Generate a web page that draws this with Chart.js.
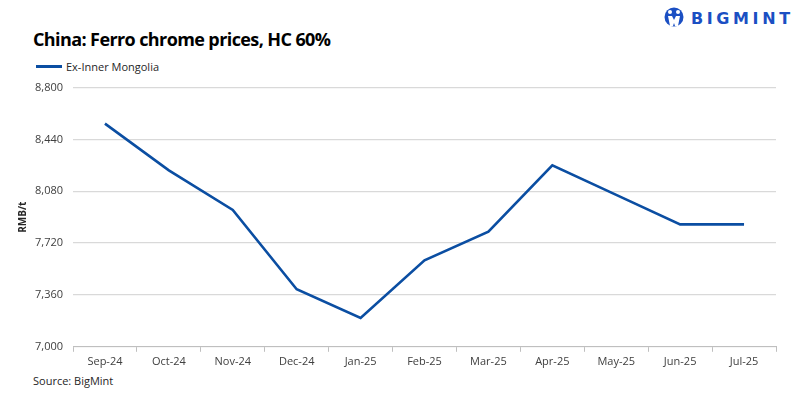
<!DOCTYPE html>
<html>
<head>
<meta charset="utf-8">
<script src="https://cdn.jsdelivr.net/npm/chart.js@4.4.1/dist/chart.umd.min.js"></script>
<style>
  body { margin: 0; background: #fff; width: 799px; height: 398px; overflow: hidden; position: relative; font-family: "Open Sans", sans-serif; }
  #title { position: absolute; left: 33px; top: 27px; font-size: 18px; font-weight: bold; color: #000; letter-spacing: -0.6px; }
  #legend { position: absolute; left: 36px; top: 59px; font-size: 11px; color: #262626; display: flex; align-items: center; }
  #legend span.ln { display: inline-block; width: 26px; height: 2.5px; background: #0b4ea2; margin-right: 4px; }
  #source { position: absolute; left: 33px; top: 373px; font-size: 11px; color: #262626; }
  #logo { position: absolute; left: 664px; top: 6px; display: flex; align-items: center; }
  #logo .txt { font-family: "DejaVu Sans", sans-serif; font-weight: bold; font-size: 16px; letter-spacing: 3.6px; color: #1b4fc3; margin-left: 7px; }
  #wrap { position: absolute; left: 0; top: 71px; width: 799px; height: 300px; }
</style>
</head>
<body>
<div id="title">China: Ferro chrome prices, HC 60%</div>
<div id="legend"><span class="ln"></span>Ex-Inner Mongolia</div>
<div id="logo">
  <svg width="20" height="24" viewBox="0 0 20 24">
    <circle cx="10" cy="11" r="9.5" fill="#1b4fc3"/>
    <circle cx="6" cy="6" r="2" fill="#fff"/>
    <circle cx="14" cy="6" r="2" fill="#fff"/>
    <path d="M4 10 L8 10 L10 14 L12 10 L16 10 L14 20 L11 20 L10 17 L9 20 L6 20 Z" fill="#fff"/>
  </svg>
  <span class="txt">BIGMINT</span>
</div>
<div id="source">Source: BigMint</div>
<div id="wrap"><canvas id="chart"></canvas></div>
<script>
// chart data
const months = ["Sep-24", "Oct-24", "Nov-24", "Dec-24", "Jan-25", "Feb-25", "Mar-25", "Apr-25", "May-25", "Jun-25", "Jul-25"];
const innerMongolia = [8550, 8225, 7950, 7400, 7200, 7600, 7800, 8260, 8055, 7850, 7850];
const yTicks = [7000, 7360, 7720, 8080, 8440, 8800];

const ctx = document.getElementById('chart').getContext('2d');
new Chart(ctx, {
  type: 'line',
  data: {
    labels: months,
    datasets: [{
      label: 'Ex-Inner Mongolia',
      data: innerMongolia,
      borderColor: '#0b4ea2',
      borderWidth: 2.6,
      pointRadius: 0,
      tension: 0,
      fill: false
    }]
  },
  options: {
    responsive: true,
    maintainAspectRatio: false,
    animation: false,
    layout: { padding: { left: 17, right: 23, top: 4, bottom: 0 } },
    plugins: {
      legend: { display: false },
      tooltip: { enabled: false }
    },
    scales: {
      x: {
        offset: true,
        grid: { display: true, drawOnChartArea: false, drawTicks: true, tickLength: 5, color: '#bfbfbf', offset: true },
        border: { display: true, color: '#bfbfbf' },
        ticks: { color: '#404040', font: { family: 'Open Sans', size: 11 }, padding: 3, maxRotation: 0 }
      },
      y: {
        min: 7000,
        max: 8800,
        afterBuildTicks: axis => { axis.ticks = yTicks.map(v => ({ value: v })); },
        afterFit: axis => { axis.width = 56; },
        grid: { color: '#d9d9d9', lineWidth: 1.3, drawTicks: false },
        border: { display: false },
        title: { display: true, text: 'RMB/t', color: '#262626', font: { family: 'Open Sans', size: 10, weight: 'bold' }, padding: { top: 0, bottom: 0 } },
        ticks: {
          color: '#404040',
          font: { family: 'Open Sans', size: 11 },
          padding: 10,
          callback: v => v.toLocaleString('en-US')
        }
      }
    }
  }
});
</script>
</body>
</html>
